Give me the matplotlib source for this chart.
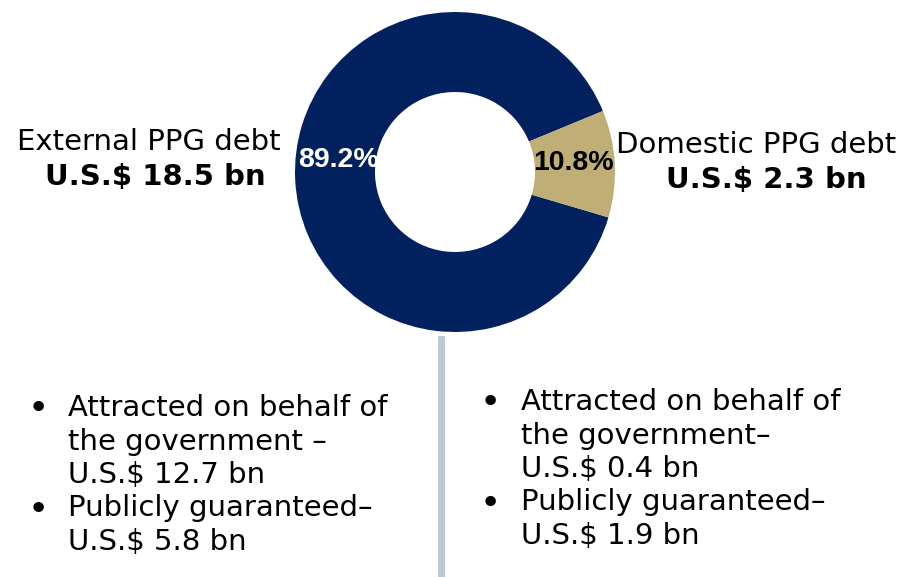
import matplotlib
matplotlib.use("Agg")
import matplotlib.pyplot as plt

# Debt composition
categories = ["External PPG debt", "Domestic PPG debt"]
shares = [89.2, 10.8]
amounts = ["U.S.$ 18.5 bn", "U.S.$ 2.3 bn"]
colors = ["#03215E", "#BFAE76"]
pct_colors = ["white", "black"]
pct_positions = [(-0.73, 0.075), (0.74, 0.056)]

external_items = [
    ["Attracted on behalf of", "the government \u2013", "U.S.$ 12.7 bn"],
    ["Publicly guaranteed\u2013", "U.S.$ 5.8 bn"],
]
domestic_items = [
    ["Attracted on behalf of", "the government\u2013", "U.S.$ 0.4 bn"],
    ["Publicly guaranteed\u2013", "U.S.$ 1.9 bn"],
]

W, H = 901, 577
fig = plt.figure(figsize=(W / 100, H / 100), dpi=100)
fig.patch.set_facecolor("white")


def fx(px):
    return px / W


def fy(py):
    return 1 - py / H


# Donut
cx, cy, r = 455, 172, 160
ax = fig.add_axes([fx(cx - r), fy(cy + r), 2 * r / W, 2 * r / H])
wedges, _, autotexts = ax.pie(
    shares,
    colors=colors,
    startangle=22.4,
    counterclock=True,
    radius=1.0,
    wedgeprops=dict(width=0.5, edgecolor="none"),
    autopct=lambda p: f"{p:.1f}%",
    pctdistance=0.74,
)
for t, c, pos in zip(autotexts, pct_colors, pct_positions):
    t.set_color(c)
    t.set_fontweight("bold")
    t.set_fontsize(20.5)
    t.set_family("Liberation Sans")
    t.set_position(pos)
ax.set_xlim(-1, 1)
ax.set_ylim(-1, 1)
ax.set_aspect("equal")
ax.axis("off")

# Category labels
font = "DejaVu Sans"
fs = 21
fig.text(fx(149), fy(142), categories[0], ha="center", va="center",
         fontsize=fs, family=font)
fig.text(fx(155), fy(177), amounts[0], ha="center", va="center",
         fontsize=fs, family=font, fontweight="bold")
fig.text(fx(756), fy(145), categories[1], ha="center", va="center",
         fontsize=fs, family=font)
fig.text(fx(766), fy(180), amounts[1], ha="center", va="center",
         fontsize=fs, family=font, fontweight="bold")

# Divider
fig.add_artist(plt.Line2D([fx(441), fx(441)], [fy(339), fy(577)],
                          color="#B8CAD6", linewidth=5))


def bullet_block(items, x_bullet, x_text, y_top, step=33.5):
    y = y_top
    for item in items:
        fig.text(fx(x_bullet), fy(y + 1), "\u2022", ha="center", va="center",
                 fontsize=26, family=font)
        for line in item:
            fig.text(fx(x_text), fy(y), line, ha="left", va="center",
                     fontsize=fs, family=font)
            y += step


bullet_block(external_items, 38, 68, 408)
bullet_block(domestic_items, 490, 521, 402)

fig.savefig("out.png", dpi=100, facecolor="white")
